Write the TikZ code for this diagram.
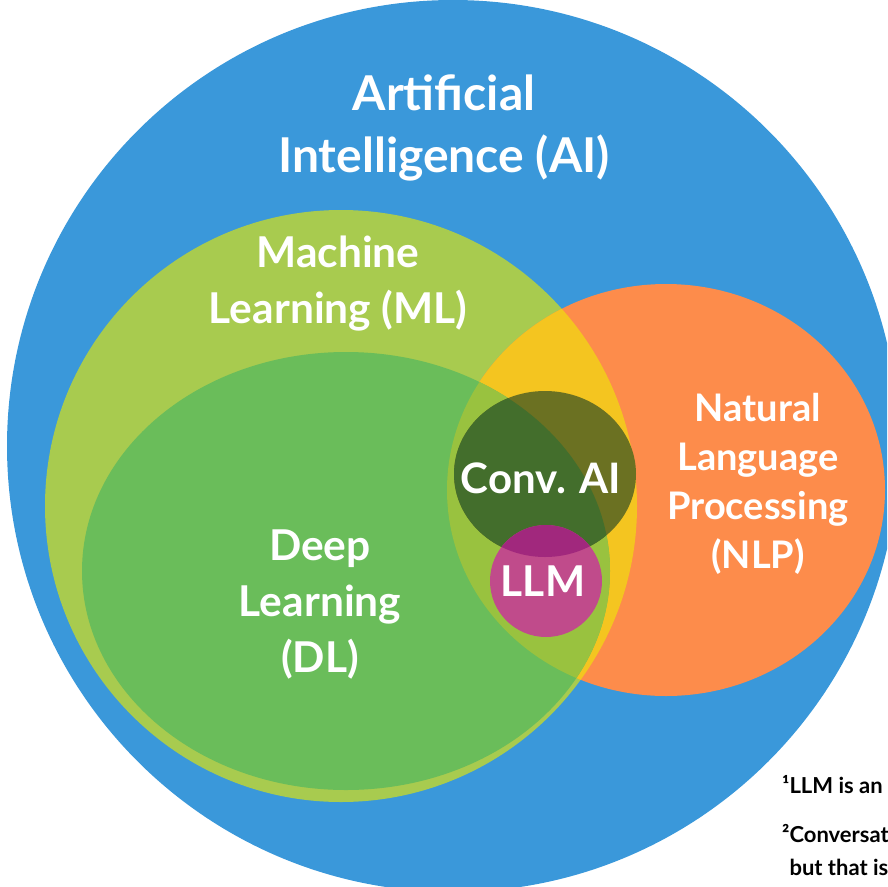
\documentclass[tikz,border=0pt]{standalone}
\usepackage{fontspec}
\setmainfont{Lato}
\definecolor{aiblue}{HTML}{3A98DA}
\definecolor{mlgreen}{HTML}{A8CB4F}
\definecolor{dlgreen}{HTML}{6ABD5A}
\definecolor{nlporange}{HTML}{FD8C4B}
\definecolor{mlnlp}{HTML}{F4C520}
\definecolor{dlnlp}{HTML}{99C23F}
\definecolor{convolive}{HTML}{6B7122}
\definecolor{convdark}{HTML}{436E2C}
\definecolor{llmpink}{HTML}{C04B8B}
\definecolor{llmdark}{HTML}{A1287D}
\begin{document}
\begin{tikzpicture}[x=1pt, y=-1pt,
	setlabel/.style={text=white, font=\bfseries\fontsize{42.5}{56}\selectfont, align=center},
	notetext/.style={text=black, font=\bfseries\fontsize{22}{33}\selectfont, anchor=west, align=left, inner sep=0pt}]
	\useasboundingbox (0,0) rectangle (887,887);
	\clip (0,0) rectangle (887,887);
	
	% the sets
	\fill[aiblue] (453,446) circle [radius=446];
	\fill[mlgreen] (341,506) circle [radius=296];
	\fill[nlporange] (666,490) ellipse [x radius=219, y radius=206];
	\begin{scope}
		\clip (341,506) circle [radius=296];
		\fill[mlnlp] (666,490) ellipse [x radius=219, y radius=206];
	\end{scope}
	\fill[dlgreen] (346,571) ellipse [x radius=264, y radius=219];
	\begin{scope}
		\clip (346,571) ellipse [x radius=264, y radius=219];
		\fill[dlnlp] (666,490) ellipse [x radius=219, y radius=206];
	\end{scope}
	
	% conv. AI and LLM
	\fill[convolive] (545,474) ellipse [x radius=91, y radius=83];
	\begin{scope}
		\clip (346,571) ellipse [x radius=264, y radius=219];
		\fill[convdark] (545,474) ellipse [x radius=91, y radius=83];
	\end{scope}
	\fill[llmpink] (546,581) circle [radius=56];
	\begin{scope}
		\clip (545,474) ellipse [x radius=91, y radius=83];
		\fill[llmdark] (546,581) circle [radius=56];
	\end{scope}
	
	% labels
	\node[setlabel, font=\bfseries\fontsize{48}{62}\selectfont] (ai) at (444,128) {Artificial\\Intelligence (AI)};
	\node[setlabel] (ml) at (338,284) {Machine\\Learning (ML)};
	\node[setlabel, font=\bfseries\fontsize{38}{49}\selectfont] (nlp) at (758,484) {Natural\\Language\\Processing\\(NLP)};
	\node[setlabel] (dl) at (320,604) {Deep\\Learning\\(DL)};
	\node[setlabel, font=\bfseries\fontsize{42}{50}\selectfont] (conv) at (541,478) {Conv. AI};
	\node[setlabel] (llm) at (543,581) {LLM};
	
	\node[notetext] (note1) at (782,785) {¹LLM is an};
	\node[notetext] (note2) at (782,850) {²Conversat\\\phantom{²}but that is};
\end{tikzpicture}
\end{document}
